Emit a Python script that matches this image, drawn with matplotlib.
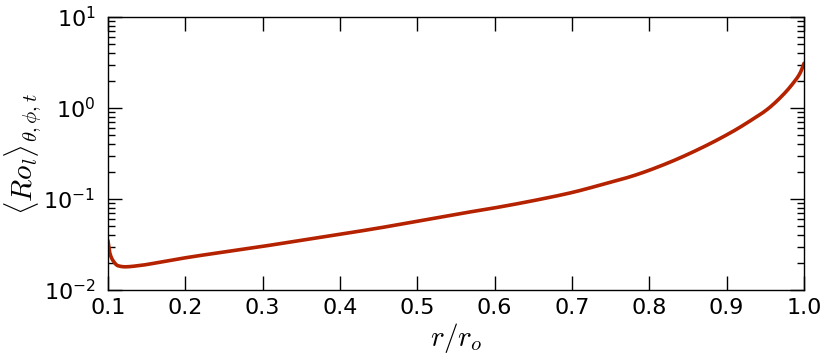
import matplotlib
matplotlib.use("Agg")
import matplotlib.pyplot as plt
import numpy as np

# radial profile of the local Rossby number
r = [0.100, 0.1026, 0.107, 0.113, 0.122, 0.141, 0.167, 0.200, 0.250, 0.300,
     0.350, 0.400, 0.450, 0.500, 0.550, 0.600, 0.650, 0.700, 0.736, 0.779,
     0.822, 0.866, 0.909, 0.930, 0.952, 0.973, 0.986, 0.995, 1.000]
ro_l = [0.035, 0.0253, 0.0208, 0.0185, 0.018, 0.0186, 0.0202, 0.0226, 0.0262, 0.0302,
        0.0352, 0.041, 0.048, 0.057, 0.068, 0.080, 0.096, 0.118, 0.142, 0.180,
        0.245, 0.36, 0.56, 0.72, 0.96, 1.40, 1.88, 2.43, 3.1]
x_ticks = [0.1, 0.2, 0.3, 0.4, 0.5, 0.6, 0.7, 0.8, 0.9, 1.0]


def pchip(x, y, xs):
    # monotone cubic hermite (Fritsch-Carlson), just to draw a smooth curve
    x = np.asarray(x, float)
    y = np.asarray(y, float)
    h = np.diff(x)
    d = np.diff(y) / h
    m = np.zeros_like(y)
    for i in range(1, len(x) - 1):
        if d[i - 1] * d[i] > 0:
            w1 = 2 * h[i] + h[i - 1]
            w2 = h[i] + 2 * h[i - 1]
            m[i] = (w1 + w2) / (w1 / d[i - 1] + w2 / d[i])
    m[0] = d[0]
    m[-1] = d[-1]
    idx = np.clip(np.searchsorted(x, xs) - 1, 0, len(x) - 2)
    t = (xs - x[idx]) / h[idx]
    h00 = 2 * t**3 - 3 * t**2 + 1
    h10 = t**3 - 2 * t**2 + t
    h01 = -2 * t**3 + 3 * t**2
    h11 = t**3 - t**2
    return h00 * y[idx] + h10 * h[idx] * m[idx] + h01 * y[idx + 1] + h11 * h[idx] * m[idx + 1]


plt.rcParams["mathtext.fontset"] = "cm"
plt.rcParams["axes.unicode_minus"] = False

fig = plt.figure(figsize=(8.3, 3.63), dpi=100)
ax = fig.add_axes([0.130, 0.201, 0.8387, 0.752])

rr = np.linspace(r[0], r[-1], 1500)
ax.plot(rr, 10 ** pchip(r, np.log10(ro_l), rr), color="#b52200", lw=2.6,
        solid_capstyle="round")

ax.set_yscale("log")
ax.set_xlim(0.1, 1.0)
ax.set_ylim(1e-2, 1e1)
ax.set_xticks(x_ticks)
ax.set_xticklabels([f"{v:.1f}" for v in x_ticks])
ax.yaxis.set_minor_locator(matplotlib.ticker.LogLocator(base=10, subs=np.arange(2, 10)))
ax.yaxis.set_minor_formatter(matplotlib.ticker.NullFormatter())
ax.xaxis.set_minor_locator(matplotlib.ticker.NullLocator())

ax.tick_params(which="both", direction="in", top=True, right=True, labelsize=16)
ax.tick_params(which="major", length=10, width=1, pad=6)
ax.tick_params(which="minor", length=5, width=1)
ax.tick_params(axis="y", which="major", pad=9)
for s in ax.spines.values():
    s.set_linewidth(1.0)

ax.set_xlabel(r"$r/r_o$", fontsize=21, labelpad=2)
ax.set_ylabel(r"$\langle Ro_l\rangle_{\theta,\phi,t}$", fontsize=21, labelpad=0)

fig.savefig("out.png", dpi=100)
